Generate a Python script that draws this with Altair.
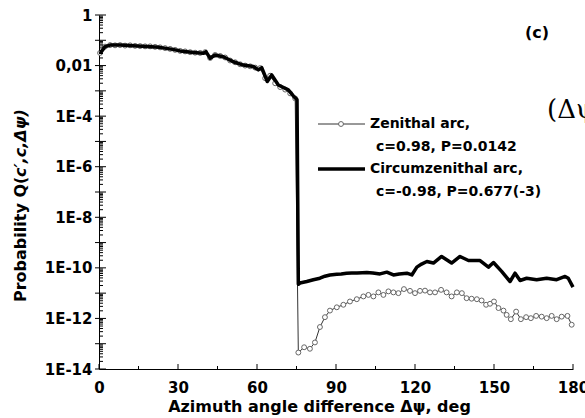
import altair as alt
import pandas as pd

# ---------------- data (y values as log10 of probability) -------------
circ_deg = [0.4, 2.3, 4.2, 8.0, 13.0, 18.0, 23.0, 28.0, 30.8, 35.8,
            39.6, 40.6, 42.2, 44.0, 47.2, 51.0, 54.8, 58.6, 60.5, 61.8,
            63.9, 65.6, 68.1, 71.9, 73.8, 75.2, 75.7, 76.3, 78.9, 81.4,
            83.9, 85.8, 87.7, 90.3, 92.0, 94.0, 96.0, 98.0, 100.0, 101.7,
            104.0, 106.7, 109.3, 111.8, 114.0, 116.9, 118.8, 120.7, 122.5, 124.5,
            127.0, 130.1, 133.9, 137.1, 140.3, 144.7, 147.9, 149.8, 152.9, 156.1,
            158.0, 159.9, 162.4, 166.2, 170.0, 173.8, 177.0, 178.2, 180.0]
circ_log10 = [-1.52, -1.25, -1.19, -1.19, -1.22, -1.25, -1.28, -1.36, -1.42, -1.48,
              -1.51, -1.45, -1.71, -1.58, -1.65, -1.85, -1.98, -2.04, -2.17, -2.08,
              -2.63, -2.37, -2.77, -2.96, -3.20, -3.35, -10.65, -10.60, -10.54, -10.47,
              -10.41, -10.33, -10.28, -10.25, -10.24, -10.21, -10.20, -10.20, -10.19, -10.18,
              -10.20, -10.24, -10.17, -10.28, -10.24, -10.21, -10.28, -9.97, -9.85, -9.75,
              -9.81, -9.55, -9.81, -9.55, -9.71, -9.71, -9.97, -9.79, -10.14, -10.54,
              -10.21, -10.50, -10.41, -10.47, -10.41, -10.47, -10.34, -10.41, -10.76]

zen_deg = [0.4, 2.3, 4.2, 6.1, 8.0, 9.9, 11.8, 13.7, 15.6, 17.5,
           19.4, 21.3, 23.2, 25.1, 27.0, 28.9, 30.8, 32.7, 34.6, 36.5,
           38.4, 40.3, 42.2, 44.1, 46.0, 47.9, 49.8, 51.7, 53.6, 55.5,
           57.4, 59.3, 61.2, 63.1, 65.0, 66.9, 68.8, 70.7, 72.6, 74.5,
           75.7,
           77.9, 80.1, 82.0, 83.9, 85.8, 87.7, 90.3, 92.8, 95.3, 97.9,
           100.4, 102.3, 104.2, 106.1, 108.0, 109.9, 111.8, 113.7, 115.8, 118.1,
           120.0, 121.9, 123.8, 125.7, 127.6, 129.9, 132.0, 133.9, 135.9, 137.8,
           139.6, 141.5, 143.5, 145.3, 147.0, 148.5, 150.0, 151.7, 153.6, 154.8,
           156.4, 158.4, 160.2, 162.2, 164.0, 166.0, 168.1, 170.0, 171.9, 173.8,
           175.7, 177.9, 179.5]
zen_log10 = [-1.50, -1.25, -1.19, -1.20, -1.19, -1.21, -1.20, -1.22, -1.23, -1.24,
             -1.24, -1.26, -1.28, -1.31, -1.34, -1.38, -1.42, -1.44, -1.47, -1.49,
             -1.50, -1.47, -1.70, -1.58, -1.62, -1.68, -1.80, -1.87, -1.95, -2.00,
             -2.03, -2.08, -2.10, -2.50, -2.40, -2.70, -2.85, -2.95, -3.10, -3.30,
             -13.35,
             -13.14, -13.20, -12.95, -12.34, -11.95, -11.69, -11.56, -11.46, -11.33, -11.24,
             -11.13, -11.07, -11.13, -10.97, -11.07, -10.93, -10.97, -11.00, -10.84, -10.91,
             -11.00, -10.91, -10.90, -10.97, -10.97, -10.87, -10.97, -11.13, -10.97, -11.00,
             -11.20, -11.22, -11.24, -11.29, -11.46, -11.42, -11.33, -11.59, -11.69, -11.86,
             -12.03, -11.73, -12.03, -11.95, -11.99, -11.90, -11.93, -11.99, -11.90, -12.03,
             -11.93, -11.90, -12.25]

x_label_values = [0, 30, 60, 90, 120, 150, 180]
x_tick_minor = [15, 45, 75, 105, 135, 165]
y_label_exponents = [-14, -12, -10, -8, -6, -4, -2, 0]
y_decade_exponents = list(range(-14, 1))

legend_lines = ["Zenithal arc,", "c=0.98, P=0.0142",
                "Circumzenithal arc,", "c=-0.98, P=0.677(-3)"]
x_title = "Azimuth angle difference \u0394\u03c8, deg"
y_title_bold = "Probability Q("
y_title_italic = "c\u2032,c,\u0394\u03c8)"
panel_label = "(c)"
side_text = "(\u0394\u03c8"

# ---------------- build tables ----------------
circ = pd.DataFrame({"deg": circ_deg, "p": [10.0 ** v for v in circ_log10]})
zen = pd.DataFrame({"deg": zen_deg, "p": [10.0 ** v for v in zen_log10]})
major = pd.DataFrame({"p": [10.0 ** e for e in y_decade_exponents]})
minor = pd.DataFrame({"p": [k * 10.0 ** e for e in range(-14, 0) for k in range(2, 10)]})
xmaj = pd.DataFrame({"deg": x_label_values})
xmin = pd.DataFrame({"deg": x_tick_minor})
one = pd.DataFrame({"k": [0]})

W, H = 474, 354
FONT = "DejaVu Sans"
x_scale = alt.Scale(domain=[0, 180], nice=False, zero=False)
y_scale = alt.Scale(type="log", domain=[1e-14, 1], nice=False)

y_axis = alt.Axis(
    values=[10.0 ** e for e in y_label_exponents],
    labelExpr="datum.value > 0.5 ? '1' : (datum.value > 0.005 ? '0,01' : '1E-' + round(-log(datum.value)/LN10))",
    grid=False, ticks=False, tickSize=0, domain=True, domainColor="black", domainWidth=1,
    labelFont=FONT, labelFontSize=15, labelFontWeight="bold", labelColor="black",
    labelPadding=7, labelFlush=False, labelOverlap=False, title=None,
)
x_axis = alt.Axis(
    values=x_label_values, grid=False, ticks=False, tickSize=0, domain=True,
    domainColor="black", domainWidth=1,
    labelFont=FONT, labelFontSize=15, labelFontWeight="bold", labelColor="black",
    labelPadding=11, labelFlush=False, labelOverlap=False,
    title=x_title, titleFont=FONT, titleFontSize=16, titleFontWeight="bold",
    titleColor="black", titleX=220, titleY=42, titleAlign="center",
    titleBaseline="alphabetic", titleAnchor="start",
)

X = alt.X("deg:Q", scale=x_scale, axis=x_axis)
Y = alt.Y("p:Q", scale=y_scale, axis=y_axis)

zen_line = alt.Chart(zen).mark_line(color="#333333", strokeWidth=1).encode(x=X, y=Y)
zen_pts = alt.Chart(zen).mark_point(
    shape="circle", filled=True, fill="white", stroke="#666666", strokeWidth=1,
    size=24, opacity=1,
).encode(x=X, y=Y)
circ_line = alt.Chart(circ).mark_line(color="black", strokeWidth=3.5, strokeJoin="round").encode(x=X, y=Y)

# axis tick marks (inside, as in the reference)
y_major_ticks = alt.Chart(major).mark_rule(color="black", strokeWidth=1).encode(
    y=Y, x=alt.value(-4), x2=alt.value(7))
y_minor_ticks = alt.Chart(minor).mark_rule(color="black", strokeWidth=1).encode(
    y=Y, x=alt.value(0), x2=alt.value(4))
x_major_ticks = alt.Chart(xmaj).mark_rule(color="black", strokeWidth=1).encode(
    x=X, y=alt.value(H), y2=alt.value(H - 5))
x_minor_ticks = alt.Chart(xmin).mark_rule(color="black", strokeWidth=1).encode(
    x=X, y=alt.value(H), y2=alt.value(H - 3))

# legend
leg_zen_line = alt.Chart(one).mark_rule(color="#333333", strokeWidth=1).encode(
    x=alt.value(219), x2=alt.value(266), y=alt.value(109))
leg_zen_pt = alt.Chart(one).mark_point(
    shape="circle", filled=True, fill="white", stroke="#666666", strokeWidth=1, size=24, opacity=1
).encode(x=alt.value(242), y=alt.value(109))
leg_circ_line = alt.Chart(one).mark_rule(color="black", strokeWidth=3.5).encode(
    x=alt.value(219), x2=alt.value(266), y=alt.value(154))

def txt(s, x, y, size=14, weight="bold", style="normal", align="left", angle=0, font=FONT):
    kw = dict(align=align, baseline="middle", font=font, fontSize=size,
              fontWeight=weight, fontStyle=style, color="black")
    if angle:
        kw["angle"] = angle
    return alt.Chart(one).mark_text(**kw).encode(
        x=alt.value(x), y=alt.value(y), text=alt.value(s))

texts = [
    txt(legend_lines[0], 271, 109),
    txt(legend_lines[1], 277, 132),
    txt(legend_lines[2], 271, 154),
    txt(legend_lines[3], 277, 177),
    txt(panel_label, 438, 18, size=16, align="center"),
    txt(side_text, 448, 95, size=26, weight="normal", font="DejaVu Serif"),
    txt(y_title_bold, -78, 287, size=16, angle=270),
    txt(y_title_italic, -78, 162, size=16, style="italic", angle=270),
]

chart = alt.layer(
    zen_line, zen_pts, circ_line,
    y_major_ticks, y_minor_ticks, x_major_ticks, x_minor_ticks,
    leg_zen_line, leg_zen_pt, leg_circ_line, *texts,
).properties(
    width=W, height=H,
    padding={"left": 99, "top": 15, "right": 12, "bottom": 49},
    autosize=alt.AutoSizeParams(type="none"),
    background="white",
).configure_view(stroke=None)

chart.save("out.html", embed_options={"renderer": "svg", "actions": False})
